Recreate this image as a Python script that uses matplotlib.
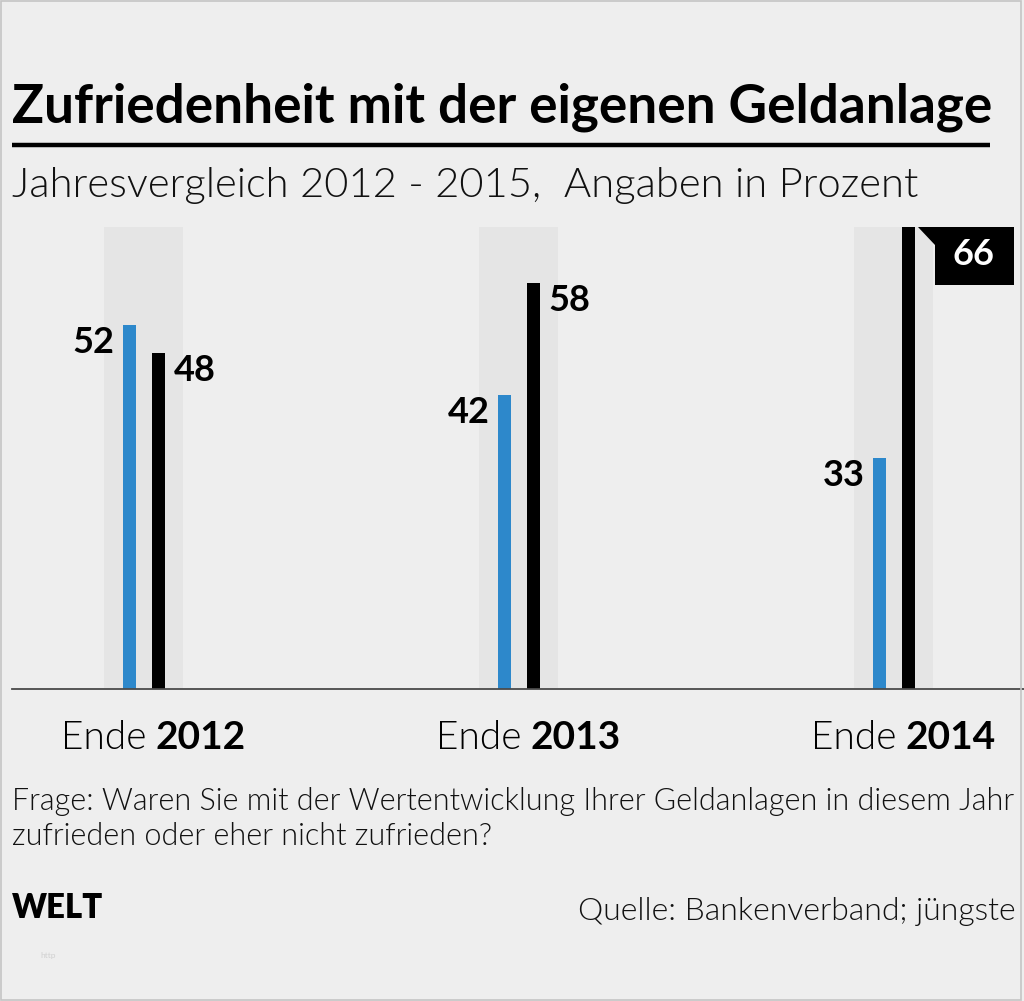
import matplotlib
matplotlib.use("Agg")
import matplotlib.pyplot as plt
from matplotlib.patches import Rectangle, Polygon
from matplotlib.transforms import IdentityTransform

# ---- data ----
categories = ["2012", "2013", "2014"]
zufrieden = [52, 42, 33]          # blue
nicht_zufrieden = [48, 58, 66]    # black

title = "Zufriedenheit mit der eigenen Geldanlage"
subtitle = "Jahresvergleich 2012 - 2015,  Angaben in Prozent"
frage_1 = "Frage: Waren Sie mit der Wertentwicklung Ihrer Geldanlagen in diesem Jahr"
frage_2 = "zufrieden oder eher nicht zufrieden?"
quelle = "Quelle: Bankenverband; jüngste"

# ---- style ----
BG = "#eeeeee"
BAND = "#e5e5e5"
BLUE = "#2d88cb"
BLACK = "#000000"
FONT = "Lato"
LIGHT = 300

W, H = 1024, 1001
fig = plt.figure(figsize=(W / 100, H / 100), dpi=100)
fig.patch.set_facecolor(BG)
renderer = fig.canvas.get_renderer()


def fx(px):
    return px / W


def fy(py):
    return 1 - py / H


def fit(t, target_w):
    for _ in range(3):
        w = t.get_window_extent(renderer).width
        t.set_fontsize(t.get_fontsize() * target_w / w)


# border
fig.add_artist(Rectangle((fx(1), fy(1000)), fx(1020), 999 / H, transform=fig.transFigure,
                         fill=False, edgecolor="#c4c4c4", lw=1.2))

# title
t = fig.text(fx(12), fy(122), title, fontsize=36, fontweight="bold", family=FONT,
             color="black", va="baseline", ha="left")
fit(t, 978)
fig.add_artist(plt.Line2D([fx(12), fx(990)], [fy(144.5), fy(144.5)], color="black",
                          lw=3.2, transform=fig.transFigure, solid_capstyle="butt"))
t = fig.text(fx(12), fy(197), subtitle, fontsize=28, fontweight=LIGHT, family=FONT,
             color="#111111", va="baseline", ha="left")
fit(t, 906)

# ---- bar axes ----
y_top_px, y_base_px = 227, 689
ax = fig.add_axes([fx(12), fy(y_base_px), fx(1012), (y_base_px - y_top_px) / H])
ax.set_facecolor("none")
spacing = 375.0
x0 = -(143.5 - 12) / spacing
ax.set_xlim(x0, x0 + 1012 / spacing)
ax.set_ylim(0, 66)
for s in ax.spines.values():
    s.set_visible(False)
ax.set_xticks([])
ax.set_yticks([])
ax.axhline(0, color="#4a4a4a", lw=1.3, zorder=5, clip_on=False)

xs = list(range(len(categories)))
bw = 13 / spacing
off = 14.5 / spacing
ax.bar(xs, [66] * len(xs), width=79 / spacing, color=BAND, zorder=0)
ax.bar([x - off for x in xs], zufrieden, width=bw, color=BLUE, zorder=2)
ax.bar([x + off for x in xs], nicht_zufrieden, width=bw, color=BLACK, zorder=2)

lab_kw = dict(fontsize=26, fontweight="bold", family=FONT, color="black",
              textcoords="offset pixels", va="baseline")
for i, (b, k) in enumerate(zip(zufrieden, nicht_zufrieden)):
    ax.annotate(str(b), (i - off - bw / 2, b), xytext=(-8, -28), ha="right", **lab_kw)
    if k == max(nicht_zufrieden):
        # flag label
        px, py = ax.transData.transform((i + off + bw / 2, k))
        poly = [(px + 3, py), (px + 99, py), (px + 99, py - 58), (px + 20, py - 58), (px + 20, py - 18)]
        fig.add_artist(Polygon(poly, closed=True, transform=IdentityTransform(),
                               facecolor="black", edgecolor="none"))
        fig.text((px + 59.5) / W, (py - 38) / H, str(k), fontsize=26, fontweight="bold",
                 family=FONT, color="white", ha="center", va="baseline")
    else:
        ax.annotate(str(k), (i + off + bw / 2, k), xytext=(9, -28), ha="left", **lab_kw)

    # category label
    ax.annotate("Ende", (i, 0), xytext=(3, -60), textcoords="offset pixels", ha="right",
                va="baseline", fontsize=28, family=FONT, fontweight=LIGHT, color="black",
                annotation_clip=False)
    ax.annotate(categories[i], (i, 0), xytext=(12, -60), textcoords="offset pixels", ha="left",
                va="baseline", fontsize=28, fontweight="bold", family=FONT, color="black",
                annotation_clip=False)

# ---- footer ----
t = fig.text(fx(12), fy(810), frage_1, fontsize=20, fontweight=LIGHT, family=FONT,
             color="#111111", va="baseline", ha="left")
fit(t, 1004)
t2 = fig.text(fx(12), fy(845), frage_2, fontsize=t.get_fontsize(), fontweight=LIGHT,
              family=FONT, color="#111111", va="baseline", ha="left")
t = fig.text(fx(12), fy(918), "WELT", fontsize=22, fontweight="heavy", family=FONT,
             color="black", va="baseline", ha="left")
fit(t, 91)
t = fig.text(fx(578), fy(920), quelle, fontsize=20, fontweight=LIGHT, family=FONT,
             color="#111111", va="baseline", ha="left")
fit(t, 436)
fig.text(fx(40), fy(958), "http", fontsize=6, family=FONT, color="#d0d0d0",
         va="baseline", ha="left")

fig.savefig("out.png", dpi=100, facecolor=BG)
